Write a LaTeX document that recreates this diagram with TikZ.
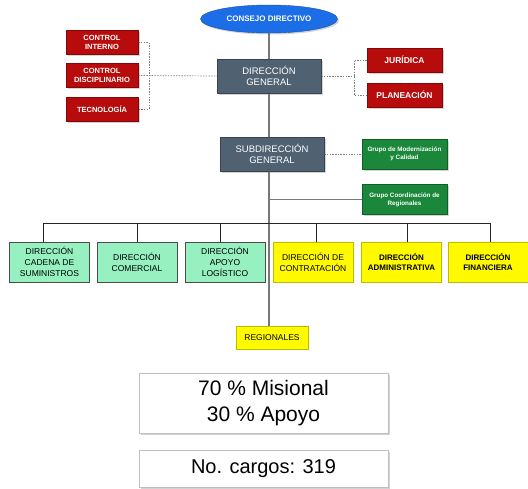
\documentclass[tikz,border=0pt]{standalone}
\usepackage{fontspec}
\setmainfont{Liberation Sans}
\usetikzlibrary{positioning,shapes.geometric,shadows,backgrounds}

\definecolor{consejoblue}{RGB}{28,110,232}
\definecolor{darkred}{RGB}{184,12,12}
\definecolor{slate}{RGB}{80,97,113}
\definecolor{grupogreen}{RGB}{26,135,58}
\definecolor{mint}{RGB}{150,240,192}
\definecolor{yell}{RGB}{255,250,0}
\definecolor{linegray}{RGB}{120,120,120}

\begin{document}
\begin{tikzpicture}[x=1pt,y=-1pt,
    shade/.style={drop shadow={shadow xshift=1.5pt,shadow yshift=-1.5pt,opacity=0.35}},
    redbox/.style={shade,fill=darkred,draw=darkred!70!black,text=white,align=center,
      minimum width=72pt,minimum height=24pt,inner sep=1pt,
      font=\fontsize{7.5}{8.5}\selectfont\bfseries},
    grisbox/.style={shade,fill=slate,draw=slate!70!black,text=white,align=center,
      minimum width=104pt,minimum height=34pt,inner sep=1pt,
      font=\fontsize{9.5}{11}\selectfont},
    verdebox/.style={shade,fill=grupogreen,draw=grupogreen!70!black,text=white,align=center,
      minimum width=85pt,minimum height=30pt,inner sep=1pt,
      font=\fontsize{6.3}{8}\selectfont\bfseries},
    mintbox/.style={fill=mint,draw=black!70,align=center,
      minimum width=80pt,minimum height=40pt,inner sep=1pt,
      font=\fontsize{8.5}{11}\selectfont},
    yelbox/.style={fill=yell,draw=yell!75!black,align=center,
      minimum width=80pt,minimum height=40pt,inner sep=1pt,
      font=\fontsize{8.5}{11}\selectfont},
    infobox/.style={shade,fill=white,draw=black!25,align=center,
      minimum width=249pt,inner sep=1pt},
    mainline/.style={draw=linegray,line width=1.4pt},
    busline/.style={draw=black!85,line width=0.8pt},
    link/.style={draw=gray,line width=0.7pt,dash pattern=on 1.5pt off 1.2pt}]

  \useasboundingbox (0,0) rectangle (528,488);

  % cabeza
  \node[ellipse,shade,fill=consejoblue,draw=consejoblue!70!black,text=white,
        minimum width=137pt,minimum height=28pt,inner sep=0pt,
        font=\fontsize{8}{9}\selectfont\bfseries]
        (consejo) at (269,19) {CONSEJO DIRECTIVO};
  \node[grisbox] (dg) at (269,76) {DIRECCIÓN\\GENERAL};
  \node[grisbox] (sg) at (272,154) {SUBDIRECCIÓN\\GENERAL};

  % asesores
  \node[redbox] (ci)  at (102,42.5) {CONTROL\\INTERNO};
  \node[redbox] (cd)  at (102,75.5) {CONTROL\\DISCIPLINARIO};
  \node[redbox] (tec) at (102,109)  {TECNOLOGÍA};
  \node[redbox,minimum width=75pt,font=\fontsize{8.5}{9}\selectfont\bfseries] (jur)  at (404.5,60) {JURÍDICA};
  \node[redbox,minimum width=75pt,font=\fontsize{8.5}{9}\selectfont\bfseries] (plan) at (404.5,95) {PLANEACIÓN};

  % grupos
  \node[verdebox] (gmc) at (404.5,154)   {Grupo de Modernización\\y Calidad};
  \node[verdebox] (gcr) at (404.5,199.5) {Grupo Coordinación de\\Regionales};

  % direcciones
  \node[mintbox] (d1) at (49.5,262) {DIRECCIÓN\\CADENA DE\\SUMINISTROS};
  \node[mintbox] (d2) at (137,262)  {DIRECCIÓN\\COMERCIAL};
  \node[mintbox] (d3) at (225,262)  {DIRECCIÓN\\APOYO\\LOGÍSTICO};
  \node[yelbox]  (d4) at (313,262)  {DIRECCIÓN DE\\CONTRATACIÓN};
  \node[yelbox,font=\fontsize{8}{9.5}\selectfont\bfseries] (d5) at (401.5,262) {DIRECCIÓN\\ADMINISTRATIVA};
  \node[yelbox,font=\fontsize{8}{9.5}\selectfont\bfseries] (d6) at (488,262)   {DIRECCIÓN\\FINANCIERA};
  \node[yelbox,minimum width=72pt,minimum height=23pt] (reg) at (272,337.5) {REGIONALES};

  % cifras
  \node[infobox,minimum height=60pt,font=\fontsize{21}{26}\selectfont] (mis) at (263.5,403) {70 \% Misional\\30 \% Apoyo};
  \node[infobox,minimum height=37pt,font=\fontsize{20}{24}\selectfont] (cargos) at (263.5,468.5) {No. cargos: 319};

  % lineas
  \begin{scope}[on background layer]
  \draw[mainline] (consejo.south) -- (reg.north -| consejo.south);
  \draw[mainline] (gcr.west -| consejo.south) -- (gcr.west);
  \coordinate (bus) at (0,223);
  \draw[busline] (bus -| 43,0) -- (bus -| 490,0);
  \foreach \n/\x in {d1/43,d2/137,d3/220,d4/316,d5/407,d6/490}
    \draw[busline] (bus -| \x,0) -- (\n.north -| \x,0);

  \draw[link] (ci.east) -- (ci.east -| 149,0) |- (tec.east);
  \draw[link] (cd.east) -- (dg.west);
  \draw[link] (dg.east) -- (dg.east -| 354,0);
  \draw[link] (jur.west) -- (jur.west -| 354,0) |- (plan.west);
  \draw[link] (sg.east) -- (gmc.west);
  \end{scope}
\end{tikzpicture}
\end{document}
